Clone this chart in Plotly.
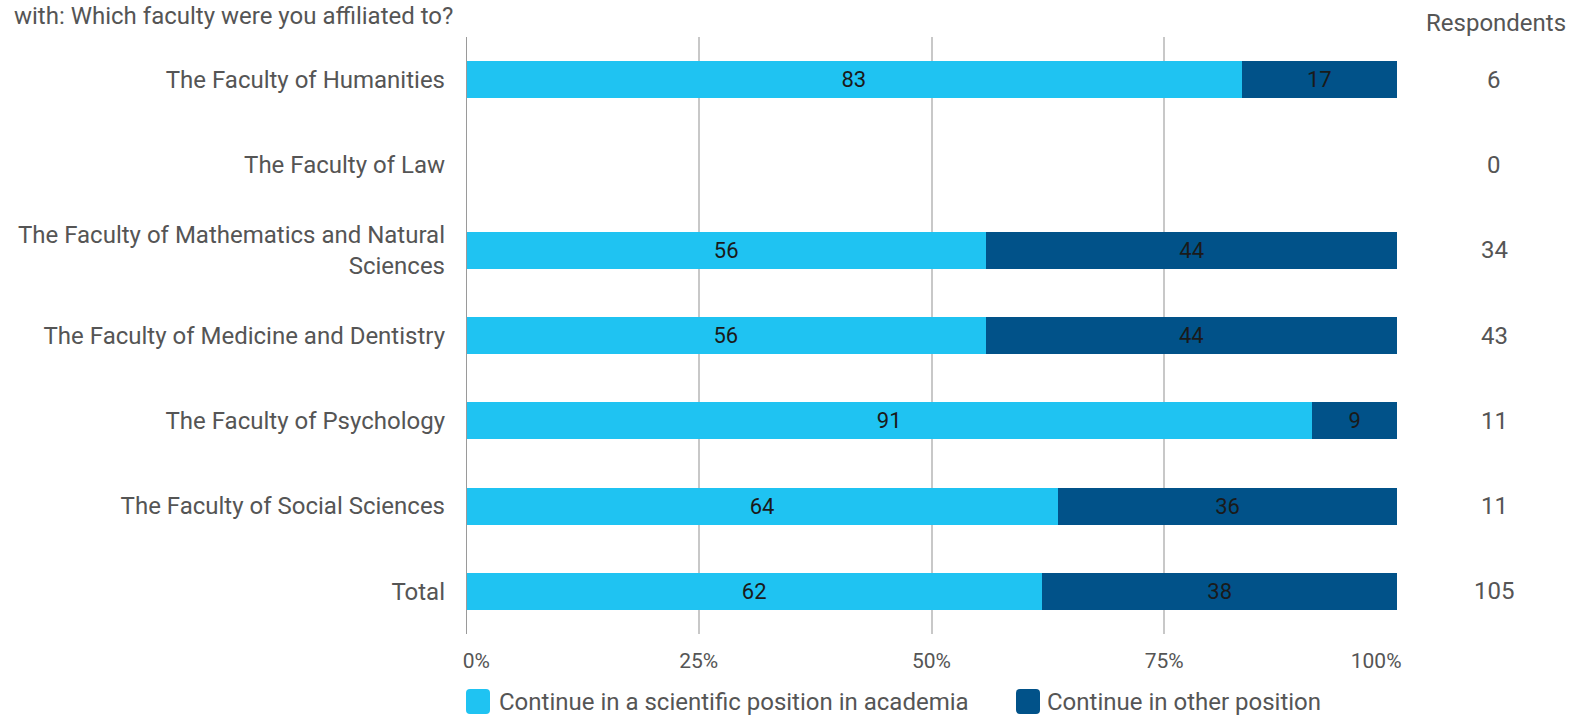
import plotly.graph_objects as go

categories = [
    "The Faculty of Humanities",
    "The Faculty of Law",
    "The Faculty of Mathematics and Natural<br>Sciences",
    "The Faculty of Medicine and Dentistry",
    "The Faculty of Psychology",
    "The Faculty of Social Sciences",
    "Total",
]
academia = [83.3, None, 55.9, 55.8, 90.9, 63.6, 61.9]
other = [16.7, None, 44.1, 44.2, 9.1, 36.4, 38.1]
respondents = [6, 0, 34, 43, 11, 11, 105]
series_names = ["Continue in a scientific position in academia", "Continue in other position"]
tick_vals = [0, 25, 50, 75, 100]
tick_text = ["0%", "25%", "50%", "75%", "100%"]
title_text = "with: Which faculty were you affiliated to?"

FONT = "Roboto"
GREY = "#555555"
c_light = "#1FC3F2"
c_dark = "#015289"
colors = [c_light, c_dark]

W, H = 1571, 715
ML, MR, MT, MB = 466, 174, 37, 81
PW, PH = W - ML - MR, H - MT - MB


def px(x):
    return (x - ML) / PW


def py(y):
    return (H - MB - y) / PH


NB = "\u00a0"
# edge labels are kept inside the plot span, as in the reference
tick_labels = list(tick_text)
tick_labels[0] = NB * 4 + tick_labels[0]
tick_labels[-1] = tick_labels[-1] + NB * 8

fig = go.Figure()
for name, vals, col in zip(series_names, [academia, other], colors):
    fig.add_trace(go.Bar(
        y=categories, x=vals, name=name, orientation="h",
        marker=dict(color=col, line=dict(width=0)),
        width=0.435,
        text=[None if v is None else f"{v:.0f}" for v in vals],
        textposition="inside", insidetextanchor="middle",
        textfont=dict(family=FONT, size=22, color="#1a1a1a"),
        constraintext="none",
        hoverinfo="skip",
        showlegend=False,
    ))

for cat, r in zip(categories, respondents):
    fig.add_annotation(x=px(1494), xref="paper", xanchor="center", y=cat, yref="y",
                       text=str(r), showarrow=False,
                       font=dict(family=FONT, size=24, color=GREY))
fig.add_annotation(x=px(1496), xref="paper", xanchor="center", y=py(23), yref="paper",
                   yanchor="middle", text="Respondents", showarrow=False,
                   font=dict(family=FONT, size=24, color=GREY))

fig.add_annotation(x=px(12), xref="paper", xanchor="left",
                   y=py(0), yref="paper", yanchor="top",
                   text=title_text, showarrow=False,
                   font=dict(family=FONT, size=24, color=GREY))

# legend (manual, rounded swatches)
legend_items = [(466, 497), (1016, 1045)]
shapes = [dict(type="line", xref="x", yref="paper", x0=0, x1=0, y0=0, y1=1,
               line=dict(color="#9a9a9a", width=2))]
for (sx, tx), name, col in zip(legend_items, series_names, colors):
    x0, x1, y0, y1 = sx, sx + 24, 689, 714
    r = 4
    path = (f"M {px(x0+r)},{py(y0)} L {px(x1-r)},{py(y0)} Q {px(x1)},{py(y0)} {px(x1)},{py(y0+r)} "
            f"L {px(x1)},{py(y1-r)} Q {px(x1)},{py(y1)} {px(x1-r)},{py(y1)} "
            f"L {px(x0+r)},{py(y1)} Q {px(x0)},{py(y1)} {px(x0)},{py(y1-r)} "
            f"L {px(x0)},{py(y0+r)} Q {px(x0)},{py(y0)} {px(x0+r)},{py(y0)} Z")
    shapes.append(dict(type="path", xref="paper", yref="paper", path=path,
                       fillcolor=col, line=dict(width=0)))
    fig.add_annotation(x=px(tx), xref="paper", xanchor="left", y=py(702), yref="paper",
                       yanchor="middle", text=name, showarrow=False,
                       font=dict(family=FONT, size=24, color=GREY))

fig.update_layout(
    barmode="stack",
    width=W, height=H,
    margin=dict(l=ML, r=MR, t=MT, b=MB, autoexpand=False),
    paper_bgcolor="white", plot_bgcolor="white",
    font=dict(family=FONT, size=24, color=GREY),
    showlegend=False,
    xaxis=dict(range=[0, 100], tickvals=tick_vals, ticktext=tick_labels,
               showgrid=True, gridcolor="#C8C8C8", gridwidth=1.5,
               zeroline=False, showline=False, ticks="", automargin=False,
               ticklabelstandoff=12,
               tickfont=dict(family=FONT, size=21, color=GREY),
               fixedrange=True),
    yaxis=dict(autorange="reversed", showgrid=False, ticks="", automargin=False,
               ticklabelstandoff=20,
               tickfont=dict(family=FONT, size=24, color=GREY),
               fixedrange=True),
    shapes=shapes,
)

fig.write_html("out.html", config={"displayModeBar": False},
               post_script="document.body.style.margin='0';document.body.style.overflow='hidden';")
